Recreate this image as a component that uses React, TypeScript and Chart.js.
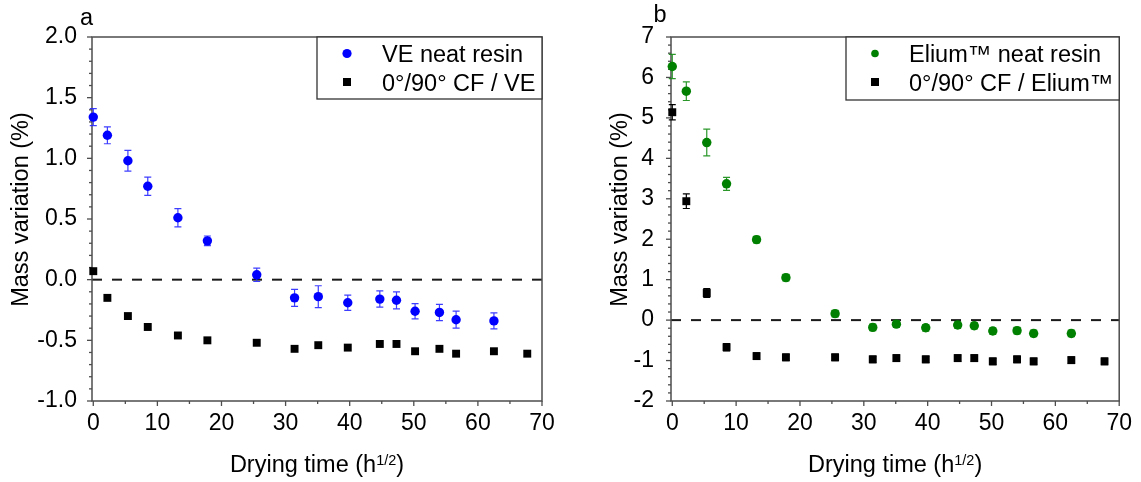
import React, { useEffect, useRef } from 'react';
import { Chart, registerables } from 'chart.js';

Chart.register(...registerables);

const FONT = '"Liberation Sans", Arial, sans-serif';

// ---- data (x = drying time in h^1/2) ----
const dryTime = [0, 2.2, 5.4, 8.5, 13.2, 17.8, 25.5, 31.4, 35.1, 39.7, 44.7, 47.3, 50.2, 54.0, 56.6, 62.5];
const dryTimeCF = [0, 2.2, 5.4, 8.5, 13.2, 17.8, 25.5, 31.4, 35.1, 39.7, 44.7, 47.3, 50.2, 54.0, 56.6, 62.5, 67.7];

const veNeat = [1.34, 1.19, 0.98, 0.77, 0.51, 0.32, 0.04, -0.15, -0.14, -0.19, -0.16, -0.17, -0.26, -0.27, -0.33, -0.34];
const veNeatErr = [0.07, 0.07, 0.085, 0.075, 0.075, 0.04, 0.055, 0.07, 0.09, 0.063, 0.067, 0.07, 0.063, 0.067, 0.07, 0.066];
const cfVe = [0.07, -0.15, -0.3, -0.39, -0.46, -0.5, -0.52, -0.57, -0.54, -0.56, -0.53, -0.53, -0.59, -0.57, -0.61, -0.59, -0.61];

const eliumNeat = [6.27, 5.66, 4.39, 3.37, 1.99, 1.05, 0.16, -0.18, -0.1, -0.19, -0.12, -0.14, -0.27, -0.26, -0.33, -0.33];
const eliumNeatErr = [0.3, 0.23, 0.33, 0.16, 0.08, 0.08, 0.08, 0.08, 0.08, 0.08, 0.08, 0.08, 0.08, 0.08, 0.08, 0.08];
const cfElium = [5.14, 2.94, 0.67, -0.67, -0.89, -0.92, -0.92, -0.97, -0.94, -0.97, -0.94, -0.94, -1.02, -0.97, -1.02, -0.99, -1.02];
const cfEliumErr = [0.19, 0.18, 0.11, 0.09, 0.08, 0.08, 0.08, 0.08, 0.08, 0.08, 0.08, 0.08, 0.08, 0.08, 0.08, 0.08, 0.08];

const xTicks = [0, 10, 20, 30, 40, 50, 60, 70];
const yTicksA = [-1, -0.5, 0, 0.5, 1, 1.5, 2];
const yTicksB = [-2, -1, 0, 1, 2, 3, 4, 5, 6, 7];

const legendA = ['VE neat resin', '0°/90° CF / VE'];
const legendB = ['Elium™ neat resin', '0°/90° CF / Elium™'];

type Panel = {
  letter: string;
  width: number;
  yWidth: number;
  rightPad: number;
  yMin: number;
  yMax: number;
  yTicks: number[];
  yMinorStep: number;
  yDecimals: number;
  yLabelPad: number;
  neat: number[];
  neatErr: number[];
  neatColor: string;
  neatErrColor: string;
  cf: number[];
  cfErr: number[] | null;
  legend: string[];
  legendLeft: number;
  legendBottom: number;
  legendMarkerX: number;
  legendTextX: number;
  legendDotR: number;
  yTitleX: number;
  letterX: number;
  letterY: number;
};

const panels: Panel[] = [
  {
    letter: 'a', width: 570, yWidth: 92, rightPad: 28,
    yMin: -1, yMax: 2, yTicks: yTicksA, yMinorStep: 0.1, yDecimals: 1, yLabelPad: 15,
    neat: veNeat, neatErr: veNeatErr, neatColor: '#0000ff', neatErrColor: 'rgba(40,40,255,0.9)',
    cf: cfVe, cfErr: null, legend: legendA,
    legendLeft: 317, legendBottom: 99, legendMarkerX: 347, legendTextX: 382, legendDotR: 4.6,
    yTitleX: 28, letterX: 80, letterY: 25,
  },
  {
    letter: 'b', width: 571, yWidth: 101, rightPad: 19,
    yMin: -2, yMax: 7, yTicks: yTicksB, yMinorStep: 0.2, yDecimals: 0, yLabelPad: 17,
    neat: eliumNeat, neatErr: eliumNeatErr, neatColor: '#008000', neatErrColor: 'rgba(20,140,20,0.9)',
    cf: cfElium, cfErr: cfEliumErr, legend: legendB,
    legendLeft: 276, legendBottom: 100, legendMarkerX: 305, legendTextX: 339, legendDotR: 3.8,
    yTitleX: 57, letterX: 83.5, letterY: 22,
  },
];

function makeDecor(p: Panel) {
  return {
    id: 'decor' + p.letter,
    beforeDatasetsDraw(chart: any) {
      const { ctx, chartArea: a, scales } = chart;
      const xs = scales.x;
      const ys = scales.y;
      ctx.save();
      // zero dashed line
      const y0 = ys.getPixelForValue(0);
      ctx.strokeStyle = '#1a1a1a';
      ctx.lineWidth = 2;
      ctx.setLineDash([10, 10]);
      ctx.beginPath();
      ctx.moveTo(a.left, y0);
      ctx.lineTo(a.right, y0);
      ctx.stroke();
      ctx.setLineDash([]);
      // frame
      ctx.strokeStyle = '#4d4d4d';
      ctx.lineWidth = 1.5;
      ctx.strokeRect(a.left, a.top, a.right - a.left, a.bottom - a.top);
      // x ticks
      ctx.lineWidth = 1.3;
      for (let v = 0; v <= 70 + 1e-9; v += 5) {
        const px = xs.getPixelForValue(v);
        const major = Math.abs(v % 10) < 1e-6;
        ctx.beginPath();
        ctx.moveTo(px, a.bottom);
        ctx.lineTo(px, a.bottom + (major ? 5 : 3));
        ctx.stroke();
      }
      // y ticks
      const n = Math.round((p.yMax - p.yMin) / p.yMinorStep);
      const majorStep = p.yTicks[1] - p.yTicks[0];
      for (let i = 0; i <= n; i++) {
        const v = p.yMin + i * p.yMinorStep;
        const py = ys.getPixelForValue(v);
        const r = (v - p.yMin) / majorStep;
        const major = Math.abs(r - Math.round(r)) < 1e-6;
        ctx.beginPath();
        ctx.moveTo(a.left, py);
        ctx.lineTo(a.left - (major ? 5 : 3), py);
        ctx.stroke();
      }
      // error bars
      const drawErr = (dsIndex: number, vals: number[], errs: number[], color: string) => {
        const meta = chart.getDatasetMeta(dsIndex);
        ctx.strokeStyle = color;
        ctx.lineWidth = 1.2;
        meta.data.forEach((el: any, i: number) => {
          const e = errs[i];
          if (!e) return;
          const top = ys.getPixelForValue(vals[i] + e);
          const bot = ys.getPixelForValue(vals[i] - e);
          ctx.beginPath();
          ctx.moveTo(el.x, top);
          ctx.lineTo(el.x, bot);
          ctx.moveTo(el.x - 3.5, top);
          ctx.lineTo(el.x + 3.5, top);
          ctx.moveTo(el.x - 3.5, bot);
          ctx.lineTo(el.x + 3.5, bot);
          ctx.stroke();
        });
      };
      drawErr(0, p.neat, p.neatErr, p.neatErrColor);
      if (p.cfErr) drawErr(1, p.cf, p.cfErr, '#000');
      ctx.restore();
    },
    afterDraw(chart: any) {
      const { ctx, chartArea: a } = chart;
      ctx.save();
      // legend
      ctx.fillStyle = '#fff';
      ctx.fillRect(p.legendLeft, a.top, a.right - p.legendLeft, p.legendBottom - a.top);
      ctx.strokeStyle = '#333';
      ctx.lineWidth = 1.3;
      ctx.strokeRect(p.legendLeft, a.top, a.right - p.legendLeft, p.legendBottom - a.top);
      ctx.fillStyle = p.neatColor;
      ctx.beginPath();
      ctx.arc(p.legendMarkerX, 53.5, p.legendDotR, 0, Math.PI * 2);
      ctx.fill();
      ctx.fillStyle = '#000';
      ctx.fillRect(p.legendMarkerX - 4, 78, 8, 8);
      ctx.font = `23.5px ${FONT}`;
      ctx.textAlign = 'left';
      ctx.textBaseline = 'alphabetic';
      ctx.fillText(p.legend[0], p.legendTextX, 62);
      ctx.fillText(p.legend[1], p.legendTextX, 90.5);
      // panel letter
      ctx.fillText(p.letter, p.letterX, p.letterY);
      // x title with superscript
      const main = 'Drying time (h';
      const sup = '1/2';
      const end = ')';
      ctx.font = `23.5px ${FONT}`;
      const w1 = ctx.measureText(main).width;
      const w3 = ctx.measureText(end).width;
      ctx.font = `14.5px ${FONT}`;
      const w2 = ctx.measureText(sup).width;
      const total = w1 + w2 + w3;
      let x = (a.left + a.right) / 2 - total / 2;
      const base = 471.5;
      ctx.font = `23.5px ${FONT}`;
      ctx.fillText(main, x, base);
      x += w1;
      ctx.font = `14.5px ${FONT}`;
      ctx.fillText(sup, x, base - 7);
      x += w2;
      ctx.font = `23.5px ${FONT}`;
      ctx.fillText(end, x, base);
      // y title
      ctx.translate(p.yTitleX, 209.5);
      ctx.rotate(-Math.PI / 2);
      ctx.textAlign = 'center';
      ctx.fillText('Mass variation (%)', 0, 0);
      ctx.restore();
    },
  };
}

function buildChart(canvas: HTMLCanvasElement, p: Panel) {
  return new Chart(canvas, {
    type: 'scatter',
    data: {
      datasets: [
        {
          label: p.legend[0],
          data: dryTime.map((x, i) => ({ x, y: p.neat[i] })),
          pointStyle: 'circle',
          pointRadius: 4.7,
          pointHoverRadius: 4.7,
          backgroundColor: p.neatColor,
          borderColor: p.neatColor,
          borderWidth: 0,
        },
        {
          label: p.legend[1],
          data: dryTimeCF.map((x, i) => ({ x, y: p.cf[i] })),
          pointStyle: 'rect',
          pointRadius: 5.6,
          pointHoverRadius: 5.6,
          backgroundColor: '#000',
          borderColor: '#000',
          borderWidth: 0,
        },
      ],
    },
    options: {
      responsive: false,
      animation: false,
      events: [],
      clip: false,
      layout: { padding: { left: 0, top: 37, right: p.rightPad, bottom: 0 } },
      plugins: { legend: { display: false }, tooltip: { enabled: false }, title: { display: false } },
      scales: {
        x: {
          type: 'linear',
          min: -0.2,
          max: 70,
          afterFit: (s: any) => { s.height = 81; },
          afterBuildTicks: (s: any) => { s.ticks = xTicks.map((v) => ({ value: v })); },
          ticks: {
            font: { family: FONT, size: 23 },
            color: '#000',
            padding: 9,
            maxRotation: 0,
            autoSkip: false,
            callback: (v: any) => String(v),
          },
          grid: { display: false, drawTicks: false },
          border: { display: false },
        },
        y: {
          type: 'linear',
          min: p.yMin,
          max: p.yMax,
          afterFit: (s: any) => { s.width = p.yWidth; },
          afterBuildTicks: (s: any) => { s.ticks = p.yTicks.map((v) => ({ value: v })); },
          ticks: {
            font: { family: FONT, size: 23 },
            color: '#000',
            padding: p.yLabelPad,
            autoSkip: false,
            callback: (v: any) => Number(v).toFixed(p.yDecimals),
          },
          grid: { display: false, drawTicks: false },
          border: { display: false },
        },
      },
    } as any,
    plugins: [makeDecor(p)],
  });
}

function PanelCanvas({ p, left }: { p: Panel; left: number }) {
  const ref = useRef<HTMLCanvasElement | null>(null);
  useEffect(() => {
    if (!ref.current) return;
    const chart = buildChart(ref.current, p);
    return () => chart.destroy();
  }, [p]);
  return (
    <canvas
      ref={ref}
      width={p.width}
      height={482}
      style={{ position: 'absolute', left, top: 0, width: p.width, height: 482, display: 'block' }}
    />
  );
}

export default function App() {
  return (
    <div style={{ position: 'fixed', left: 0, top: 0, width: 1141, height: 482, background: '#fff', overflow: 'hidden' }}>
      <PanelCanvas p={panels[0]} left={0} />
      <PanelCanvas p={panels[1]} left={570} />
    </div>
  );
}
